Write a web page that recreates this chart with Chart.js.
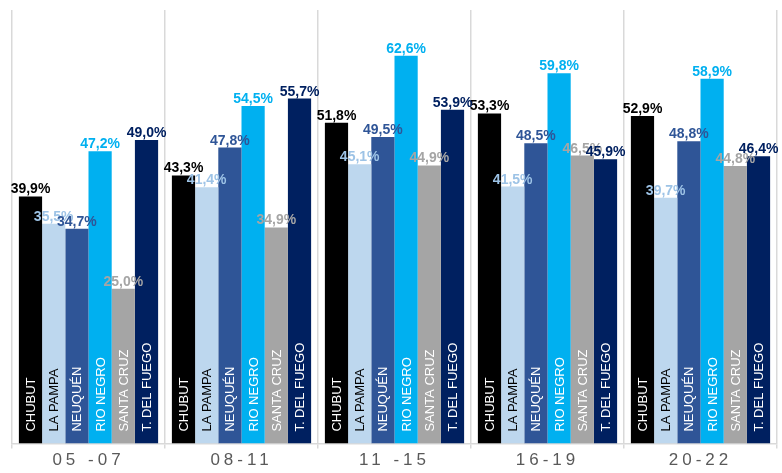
<!DOCTYPE html>
<html>
<head>
<meta charset="utf-8">
<script src="https://cdn.jsdelivr.net/npm/chart.js@4.4.0/dist/chart.umd.min.js"></script>
<style>
html,body{margin:0;padding:0;background:#fff;}
#wrap{width:782px;height:473px;position:relative;}
</style>
</head>
<body>
<div id="wrap"><canvas id="c"></canvas></div>
<script>
const categories = ["05 -07", "08-11", "11 -15", "16-19", "20-22"];
const seriesNames = ["CHUBUT", "LA PAMPA", "NEUQUÉN", "RIO NEGRO", "SANTA CRUZ", "T. DEL FUEGO"];
const chubut    = [39.9, 43.3, 51.8, 53.3, 52.9];
const laPampa   = [35.5, 41.4, 45.1, 41.5, 39.7];
const neuquen   = [34.7, 47.8, 49.5, 48.5, 48.8];
const rioNegro  = [47.2, 54.5, 62.6, 59.8, 58.9];
const santaCruz = [25.0, 34.9, 44.9, 46.5, 44.8];
const tDelFuego = [49.0, 55.7, 53.9, 45.9, 46.4];
const seriesValues = [chubut, laPampa, neuquen, rioNegro, santaCruz, tDelFuego];

const barColors   = ["#000000", "#BDD7EE", "#2F5597", "#00B0F0", "#A5A5A5", "#002060"];
const valueColors = ["#000000", "#9DC3E6", "#2F5597", "#00B0F0", "#A5A5A5", "#002060"];
const innerColors = ["#ffffff", "#000000", "#ffffff", "#ffffff", "#ffffff", "#ffffff"];

const fmt = v => v.toFixed(1).replace('.', ',') + '%';

const labelPlugin = {
  id: 'labelPlugin',
  beforeDraw(chart){ chart.ctx.letterSpacing = '4px'; },
  beforeDatasetsDraw(chart){ chart.ctx.letterSpacing = '0px'; },
  afterDatasetsDraw(chart){
    const ctx = chart.ctx;
    ctx.letterSpacing = '0px';
    const bottom = chart.chartArea.bottom;
    chart.data.datasets.forEach((ds, i) => {
      const meta = chart.getDatasetMeta(i);
      meta.data.forEach(bar => {
        ctx.save();
        ctx.translate(bar.x, bottom - 12);
        ctx.rotate(-Math.PI / 2);
        ctx.font = '13px "Liberation Sans", Arial, sans-serif';
        ctx.fillStyle = innerColors[i];
        ctx.textAlign = 'left';
        ctx.textBaseline = 'middle';
        ctx.fillText(seriesNames[i], 0, 1);
        ctx.restore();
      });
    });
    chart.data.datasets.forEach((ds, i) => {
      const meta = chart.getDatasetMeta(i);
      meta.data.forEach((bar, j) => {
        ctx.save();
        ctx.font = 'bold 14px "Liberation Sans", Arial, sans-serif';
        ctx.fillStyle = valueColors[i];
        ctx.textAlign = 'center';
        ctx.textBaseline = 'alphabetic';
        ctx.fillText(fmt(ds.data[j]), bar.x, bar.y - 3);
        ctx.restore();
      });
    });
  }
};

new Chart(document.getElementById('c'), {
  type: 'bar',
  data: {
    labels: categories,
    datasets: seriesNames.map((name, i) => ({
      label: name,
      data: seriesValues[i],
      backgroundColor: barColors[i],
      borderWidth: 0,
      categoryPercentage: 0.91,
      barPercentage: 1.0
    }))
  },
  options: {
    responsive: true,
    maintainAspectRatio: false,
    animation: false,
    layout: { padding: { left: 12, right: 5, top: 10, bottom: 0 } },
    plugins: { legend: { display: false }, tooltip: { enabled: false } },
    scales: {
      y: { display: false, min: 0, max: 70 },
      x: {
        offset: true,
        grid: { display: true, offset: true, color: '#D9D9D9', lineWidth: 1.5, drawTicks: true, tickLength: 5 },
        border: { display: true, color: '#D9D9D9', width: 1.5 },
        ticks: { color: '#595959', font: { size: 17, family: '"Liberation Sans", Arial, sans-serif' }, padding: 2 }
      }
    }
  },
  plugins: [labelPlugin]
});
</script>
</body>
</html>
